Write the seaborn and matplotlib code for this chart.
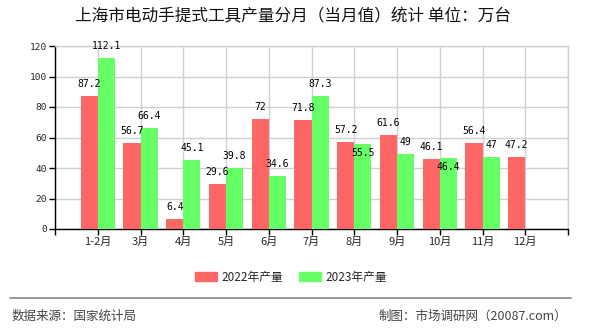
import matplotlib
matplotlib.use("Agg")
import matplotlib.pyplot as plt
import seaborn as sns
import pandas as pd
import numpy as np
from matplotlib.lines import Line2D

months = ["1-2月", "3月", "4月", "5月", "6月", "7月", "8月", "9月", "10月", "11月", "12月"]
v2022 = [87.2, 56.7, 6.4, 29.6, 72, 71.8, 57.2, 61.6, 46.1, 56.4, 47.2]
v2023 = [112.1, 66.4, 45.1, 39.8, 34.6, 87.3, 55.5, 49, 46.4, 47, np.nan]
series = ["2022年产量", "2023年产量"]
colors = ["#FF6666", "#66FF66"]
yticks = [0, 20, 40, 60, 80, 100, 120]
title = "上海市电动手提式工具产量分月（当月值）统计 单位：万台"
source = "数据来源：国家统计局"
credit = "制图：市场调研网（20087.com）"

df = pd.DataFrame({
    "month": months * 2,
    "value": v2022 + v2023,
    "series": [series[0]] * len(months) + [series[1]] * len(months),
})

sns.set_theme(style="white")
plt.rcParams["font.family"] = ["Noto Sans CJK SC", "DejaVu Sans"]

fig = plt.figure(figsize=(5.9, 3.3), dpi=100)
ax = fig.add_axes([55 / 590, 1 - 229 / 330, (568 - 55) / 590, (229 - 46) / 330])

sns.barplot(data=df, x="month", y="value", hue="series", order=months,
            hue_order=series, palette=colors, saturation=1, width=0.8,
            linewidth=0, edgecolor="none", gap=0,
            ax=ax, legend=True, zorder=3)

ax.set_xlim(-1, 11)
ax.set_ylim(0, 120)
ax.set_yticks(yticks)
ax.set_yticklabels([str(t) for t in yticks], family="DejaVu Sans Mono", fontsize=6.8)
ax.set_xticks(list(range(-1, 12)))
ax.set_xticklabels([""] + months + [""], fontsize=8)
ax.set_xlabel("")
ax.set_ylabel("")
ax.grid(True, color="#d0d0d0", linewidth=1, zorder=0)
ax.set_axisbelow(True)
for s in ["top", "right"]:
    ax.spines[s].set_color("#d0d0d0")
    ax.spines[s].set_linewidth(1)
for s in ["left", "bottom"]:
    ax.spines[s].set_color("black")
    ax.spines[s].set_linewidth(1)
ax.tick_params(axis="both", which="both", length=4, width=1, color="black",
               direction="out", pad=2, bottom=True, left=True)

# value labels
for i in range(len(months)):
    r, g = v2022[i], v2023[i]
    ax.annotate(f"{r:g}", (i - 0.2, r), xytext=(0, 8.6), textcoords="offset points",
                ha="center", va="center", fontsize=7, family="DejaVu Sans Mono", color="black")
    if not np.isnan(g):
        below = abs(g - r) < 5
        off = -6.3 if below else 8.6
        ax.annotate(f"{g:g}", (i + 0.2, g), xytext=(0, off), textcoords="offset points",
                    ha="center", va="center", fontsize=7, family="DejaVu Sans Mono", color="black",
                    zorder=5)

ax.get_legend().remove()
handles = [plt.Rectangle((0, 0), 1, 1, color=c) for c in colors]
fig.legend(handles, series, loc="center", bbox_to_anchor=(291 / 590, 1 - 277 / 330),
           ncol=2, frameon=False, fontsize=8.5, handlelength=1.86, handleheight=0.76,
           handletextpad=0.35, columnspacing=1.35)

fig.text(293 / 590, 1 - 17 / 330, title, ha="center", va="center", fontsize=12, color="#111111")
fig.add_artist(Line2D([10 / 590, 571 / 590], [1 - 298 / 330, 1 - 298 / 330],
                      color="#888888", linewidth=1.2, transform=fig.transFigure))
fig.text(12 / 590, 1 - 316 / 330, source, ha="left", va="center", fontsize=9, color="#444444")
fig.text(567 / 590, 1 - 316 / 330, credit, ha="right", va="center", fontsize=9, color="#444444")

fig.savefig("out.png", dpi=100, facecolor="white")
